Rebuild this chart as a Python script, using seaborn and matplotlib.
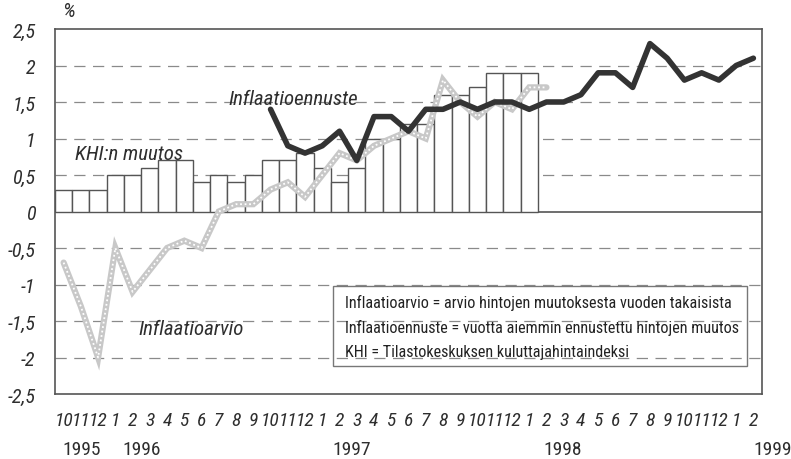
import numpy as np
import matplotlib
matplotlib.use('Agg')
import matplotlib.pyplot as plt
from matplotlib import font_manager
import seaborn as sns

# kuukaudet 10/1995 - 2/1999
month_labels = ['10', '11', '12', '1', '2', '3', '4', '5', '6', '7', '8', '9',
                '10', '11', '12', '1', '2', '3', '4', '5', '6', '7', '8', '9',
                '10', '11', '12', '1', '2', '3', '4', '5', '6', '7', '8', '9',
                '10', '11', '12', '1', '2']
year_labels = ['1995', '1996', '1997', '1998', '1999']
year_pos = [1.05, 4.55, 16.7, 28.95, 41.1]

# KHI:n muutos (pylvaat), 10/1995 - 1/1998
khi = [0.3, 0.3, 0.3, 0.5, 0.5, 0.6, 0.7, 0.7, 0.4, 0.5, 0.4, 0.5,
       0.7, 0.7, 0.8, 0.6, 0.4, 0.6, 1.0, 1.0, 1.2, 1.2, 1.6, 1.6,
       1.7, 1.9, 1.9, 1.9]

# Inflaatioennuste, 10/1996 - 2/1999
ennuste_start = 12
ennuste = [1.4, 0.9, 0.8, 0.9, 1.1, 0.7, 1.3, 1.3, 1.1, 1.4, 1.4, 1.5,
           1.4, 1.5, 1.5, 1.4, 1.5, 1.5, 1.6, 1.9, 1.9, 1.7, 2.3, 2.1,
           1.8, 1.9, 1.8, 2.0, 2.1]

# Inflaatioarvio, 10/1995 - 2/1998
arvio = [-0.7, -1.3, -2.0, -0.5, -1.1, -0.8, -0.5, -0.4, -0.5, 0.0, 0.1, 0.1,
         0.3, 0.4, 0.2, 0.5, 0.8, 0.7, 0.9, 1.0, 1.1, 1.0, 1.8, 1.5,
         1.3, 1.5, 1.4, 1.7, 1.7]

legend_lines = ['Inflaatioarvio = arvio hintojen muutoksesta vuoden takaisista',
                'Inflaatioennuste = vuotta aiemmin ennustettu hintojen muutos',
                'KHI = Tilastokeskuksen kuluttajahintaindeksi']

yticks = np.arange(-2.5, 2.51, 0.5)
ytick_labels = [('%g' % v).replace('.', ',') for v in yticks]

# kapea fontti jos loytyy
available = {f.name for f in font_manager.fontManager.ttflist}
narrow = 'DejaVu Sans'
for cand in ['Liberation Sans Narrow', 'DejaVu Sans Condensed', 'Roboto Condensed', 'Open Sans Condensed']:
    if cand in available:
        narrow = cand
        break

sns.set_style('white')
plt.rcParams['font.family'] = [narrow, 'DejaVu Sans']

fig = plt.figure(figsize=(7.91, 4.6), dpi=100)
ax = fig.add_axes([55 / 791, 1 - 395 / 460, 707 / 791, 365 / 460])

frame_c = '#555555'
text_c = '#2e2e2e'

# ruudukko
for v in yticks[1:-1]:
    if v == 0:
        ax.axhline(0, color=frame_c, lw=1.2, zorder=1)
    else:
        ax.axhline(v, color='#8a8a8a', lw=0.9, ls=(0, (9, 6)), zorder=0)

sns.barplot(x=np.arange(len(khi)), y=khi, native_scale=True, width=1,
            color='white', saturation=1, edgecolor=frame_c, linewidth=1.0,
            ax=ax, zorder=2)

x_arvio = np.arange(len(arvio))
ax.plot(x_arvio, arvio, color='#c8c8c8', lw=4.5, solid_joinstyle='miter', zorder=3)
ax.plot(x_arvio, arvio, color='white', lw=1.3, ls=(0, (1, 1.5)), zorder=3.1)

x_enn = np.arange(ennuste_start, ennuste_start + len(ennuste))
sns.lineplot(x=x_enn, y=ennuste, color='#333333', lw=4, ax=ax, zorder=4)

ax.set_xlim(-0.5, len(month_labels) - 0.5)
ax.set_ylim(-2.5, 2.5)

ax.set_yticks(yticks)
ax.set_yticklabels(ytick_labels, fontsize=14.5, style='italic', color=text_c)
ax.set_xticks(np.arange(len(month_labels)))
ax.set_xticklabels(month_labels, fontsize=14, style='italic', color=text_c)
ax.tick_params(axis='both', direction='out', length=7, width=0.9, color=frame_c)
ax.tick_params(axis='x', pad=5)
ax.tick_params(axis='y', pad=7)
ax.set_xlabel('')
ax.set_ylabel('')

for s in ax.spines.values():
    s.set_visible(True)
    s.set_color(frame_c)
    s.set_linewidth(1.2)

for lab, xp in zip(year_labels, year_pos):
    ax.text(xp, -3.26, lab, ha='center', va='center', fontsize=14,
            color=text_c, clip_on=False)

ax.text(0.3, 2.75, '%', fontsize=15, style='italic', color=text_c,
        ha='center', va='center', clip_on=False)
ax.text(13.3, 1.55, 'Inflaatioennuste', fontsize=15, style='italic',
        color=text_c, ha='center', va='center')
ax.text(3.8, 0.8, 'KHI:n muutos', fontsize=15, style='italic',
        color=text_c, ha='center', va='center')
ax.text(7.4, -1.6, 'Inflaatioarvio', fontsize=15, style='italic',
        color=text_c, ha='center', va='center')

# selitelaatikko
bx0, by0 = 333 / 791, 1 - 367 / 460
fig.patches.append(plt.Rectangle((bx0, by0), (747 - 333) / 791, 80 / 460, transform=fig.transFigure,
                                 fill=False, edgecolor='#777777', lw=1.0))
for i, line in enumerate(legend_lines):
    fig.text(345 / 791, 1 - (303 + 24.5 * i) / 460, line, fontsize=11.6, color='#222222',
             ha='left', va='center')

fig.savefig('out.png', dpi=100)
